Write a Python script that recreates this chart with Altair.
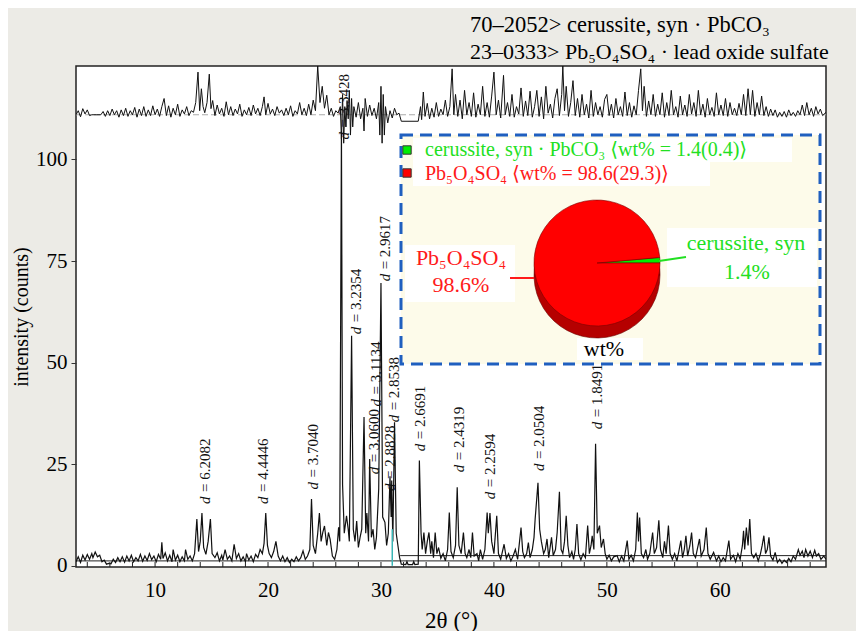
import math
import altair as alt
import pandas as pd

FONT = "Liberation Serif, DejaVu Serif, serif"

obs_pts = [
    (3.0, 1.0), (3.2, 2.2), (3.4, 0.8), (3.6, 2.6), (3.8, 1.4), (4.0, 2.8), (4.2, 1.6), (4.4, 3.0),
    (4.5, 2.0), (4.7, 3.4), (4.9, 2.2), (5.1, 2.6), (5.3, 1.0), (5.5, 1.4), (5.7, 0.4), (5.9, 0.6),
    (6.1, 0.5), (6.3, 1.6), (6.5, 0.8), (6.7, 2.0), (6.9, 1.0), (7.1, 2.2), (7.3, 0.9), (7.5, 2.4),
    (7.7, 1.2), (7.9, 2.6), (8.1, 1.0), (8.3, 2.0), (8.5, 1.2), (8.7, 2.8), (8.9, 1.1), (9.1, 2.4),
    (9.3, 1.3), (9.5, 3.0), (9.7, 1.5), (9.9, 2.4), (10.1, 1.0), (10.3, 2.8), (10.5, 1.6), (10.6, 5.8),
    (10.7, 1.8), (10.9, 3.2), (11.1, 1.2), (11.3, 2.6), (11.5, 1.0), (11.6, 4.0), (11.8, 1.4), (12.0, 2.6),
    (12.2, 1.0), (12.4, 2.2), (12.6, 1.2), (12.7, 4.0), (12.9, 1.6), (13.1, 2.4), (13.3, 1.2), (13.5, 3.0),
    (13.7, 11.5), (13.85, 3.5), (14.0, 6.0), (14.15, 13.0), (14.3, 4.5), (14.5, 2.8), (14.7, 6.0), (14.9, 11.5),
    (15.05, 3.0), (15.3, 2.0), (15.5, 3.2), (15.7, 1.2), (15.9, 2.6), (16.0, 1.4), (16.2, 4.0), (16.4, 1.6),
    (16.6, 2.4), (16.8, 1.2), (17.0, 5.3), (17.2, 1.8), (17.4, 3.0), (17.6, 1.2), (17.8, 2.2), (18.0, 1.0),
    (18.1, 3.0), (18.3, 1.4), (18.5, 2.4), (18.7, 1.0), (18.9, 2.8), (19.1, 2.0), (19.3, 4.0), (19.5, 3.0),
    (19.65, 5.5), (19.8, 13.0), (19.95, 5.0), (20.1, 3.0), (20.3, 2.0), (20.5, 3.5), (20.7, 6.0), (20.9, 2.4),
    (21.1, 1.2), (21.3, 2.4), (21.5, 1.0), (21.7, 2.0), (21.9, 0.8), (22.1, 1.6), (22.3, 1.0), (22.5, 2.2),
    (22.7, 1.2), (22.9, 2.0), (23.1, 3.7), (23.3, 1.6), (23.5, 2.4), (23.7, 4.0), (23.85, 16.4), (24.0, 5.0),
    (24.2, 3.0), (24.4, 8.0), (24.55, 13.0), (24.7, 6.0), (24.85, 8.2), (25.0, 9.8), (25.2, 5.0), (25.35, 8.2),
    (25.5, 6.5), (25.7, 2.4), (25.9, 1.6), (26.1, 4.0), (26.25, 9.5), (26.35, 6.0), (26.5, 107.0), (26.6, 20.0),
    (26.75, 8.0), (26.95, 12.3), (27.1, 9.0), (27.2, 6.0), (27.4, 56.6), (27.55, 9.0), (27.7, 6.0), (27.85, 11.0),
    (28.0, 4.5), (28.15, 7.0), (28.3, 9.0), (28.5, 36.6), (28.65, 8.0), (28.75, 13.0), (28.9, 6.0), (29.0, 26.3),
    (29.15, 7.0), (29.3, 9.0), (29.45, 4.0), (29.6, 7.0), (29.8, 18.9), (30.0, 69.6), (30.15, 12.0), (30.35, 10.7),
    (30.5, 5.0), (30.65, 8.0), (30.8, 22.0), (30.9, 12.0), (30.95, 21.0), (31.05, 6.0), (31.2, 35.3), (31.35, 8.0),
    (31.5, 5.0), (31.65, 2.0), (31.8, 0.4), (32.2, 0.3), (32.3, 1.0), (32.4, 0.3), (32.8, 0.3), (32.9, 1.0),
    (33.0, 0.3), (33.3, 0.4), (33.4, 25.9), (33.55, 8.0), (33.65, 4.0), (33.8, 8.2), (33.95, 3.0), (34.1, 6.0),
    (34.25, 8.2), (34.4, 3.0), (34.5, 6.0), (34.65, 2.0), (34.8, 8.2), (34.95, 3.0), (35.1, 4.5), (35.3, 1.8),
    (35.5, 3.0), (35.7, 1.2), (35.9, 4.0), (36.05, 13.1), (36.2, 3.5), (36.4, 2.0), (36.6, 5.0), (36.75, 19.3),
    (36.9, 5.0), (37.1, 3.0), (37.3, 8.2), (37.45, 3.0), (37.6, 2.0), (37.8, 4.0), (37.95, 2.0), (38.1, 8.2),
    (38.25, 2.4), (38.5, 3.0), (38.65, 1.2), (38.8, 4.0), (39.0, 1.6), (39.2, 4.0), (39.4, 13.1), (39.5, 8.0),
    (39.65, 13.0), (39.8, 6.0), (40.0, 3.0), (40.25, 12.3), (40.4, 3.0), (40.6, 1.6), (40.9, 5.3), (41.1, 1.8),
    (41.3, 3.0), (41.5, 1.2), (41.7, 2.4), (41.9, 4.0), (42.1, 1.6), (42.4, 9.4), (42.55, 3.5), (42.7, 2.0),
    (42.9, 3.0), (43.05, 5.7), (43.2, 2.0), (43.4, 4.0), (43.55, 7.0), (43.65, 11.5), (43.9, 20.4), (44.05, 9.0),
    (44.2, 6.0), (44.4, 3.0), (44.55, 4.0), (44.7, 6.6), (44.85, 2.0), (45.1, 7.0), (45.25, 2.5), (45.45, 4.0),
    (45.6, 8.2), (45.8, 18.2), (45.95, 4.0), (46.1, 3.0), (46.25, 6.0), (46.4, 12.3), (46.55, 5.0), (46.7, 2.0),
    (46.9, 3.5), (47.05, 1.6), (47.2, 4.0), (47.35, 10.3), (47.5, 3.0), (47.7, 1.5), (47.9, 3.0), (48.1, 2.0),
    (48.3, 9.9), (48.45, 3.0), (48.6, 5.0), (48.7, 7.4), (48.85, 4.0), (49.0, 30.0), (49.15, 8.0), (49.35, 9.9),
    (49.5, 4.5), (49.7, 6.6), (49.85, 3.0), (50.0, 1.6), (50.2, 2.6), (50.4, 1.2), (50.6, 2.2), (50.9, 2.5),
    (51.1, 1.0), (51.3, 2.4), (51.5, 1.2), (51.8, 6.2), (51.95, 1.6), (52.15, 2.6), (52.35, 1.2), (52.55, 4.0),
    (52.7, 13.1), (52.8, 6.0), (52.9, 11.9), (53.05, 3.0), (53.25, 2.0), (53.45, 4.0), (53.6, 1.6), (53.8, 3.0),
    (54.05, 8.2), (54.2, 3.0), (54.4, 4.5), (54.6, 11.2), (54.75, 4.0), (54.95, 2.0), (55.1, 6.0), (55.25, 3.0),
    (55.45, 9.9), (55.6, 3.0), (55.8, 1.6), (56.0, 3.0), (56.2, 1.2), (56.4, 4.0), (56.55, 6.2), (56.7, 2.0),
    (56.85, 4.0), (57.0, 7.4), (57.15, 2.4), (57.35, 5.0), (57.5, 8.2), (57.65, 3.0), (57.85, 2.0), (58.0, 4.0),
    (58.2, 6.6), (58.35, 2.4), (58.6, 4.0), (58.8, 9.4), (58.95, 3.0), (59.15, 1.6), (59.45, 3.3), (59.7, 1.2),
    (59.9, 2.4), (60.1, 1.0), (60.3, 2.0), (60.5, 1.2), (60.8, 6.2), (60.95, 1.6), (61.2, 2.6), (61.4, 1.0),
    (61.6, 3.0), (61.8, 1.6), (62.0, 5.0), (62.1, 8.6), (62.2, 4.0), (62.35, 9.4), (62.5, 5.0), (62.65, 11.5),
    (62.8, 3.0), (63.0, 2.0), (63.2, 3.0), (63.4, 1.2), (63.6, 3.0), (63.75, 5.0), (63.9, 7.4), (64.05, 3.0),
    (64.2, 4.0), (64.35, 7.0), (64.5, 2.4), (64.7, 1.4), (64.9, 3.3), (65.1, 0.8), (65.3, 1.6), (65.5, 0.6),
    (65.7, 1.4), (65.9, 0.8), (66.1, 1.8), (66.3, 1.0), (66.5, 2.4), (66.7, 1.6), (66.95, 4.0), (67.1, 2.6),
    (67.3, 3.6), (67.45, 2.0), (67.6, 4.0), (67.8, 2.4), (68.0, 3.6), (68.2, 2.0), (68.4, 3.8), (68.55, 2.4),
    (68.75, 3.0), (68.95, 1.6), (69.2, 2.4), (69.4, 1.6),
]

# ---- difference (residual) curve, drawn offset at the top ----
res_pts = [
    (3.0, 111.0), (3.2, 112.0), (3.4, 110.5), (3.6, 112.5), (3.8, 111.2), (4.0, 112.2), (4.2, 110.8), (4.4, 111.0),
    (4.8, 111.0), (5.2, 111.0), (5.4, 111.8), (5.6, 110.6), (5.8, 112.0), (6.0, 110.8), (6.2, 112.4), (6.4, 111.0),
    (6.6, 112.0), (6.8, 110.4), (7.0, 112.2), (7.2, 110.8), (7.4, 112.6), (7.6, 110.6), (7.8, 112.0), (8.0, 111.0),
    (8.2, 112.8), (8.4, 110.4), (8.6, 112.4), (8.8, 110.8), (9.0, 113.0), (9.2, 110.6), (9.4, 112.2), (9.6, 110.8),
    (9.8, 113.2), (10.0, 111.0), (10.2, 112.4), (10.4, 110.6), (10.6, 113.0), (10.8, 115.0), (11.0, 110.8), (11.2, 113.2),
    (11.4, 110.4), (11.6, 112.6), (11.8, 111.0), (12.0, 113.6), (12.2, 110.6), (12.4, 112.2), (12.6, 111.2), (12.8, 113.0),
    (13.0, 110.8), (13.2, 112.0), (13.4, 111.6), (13.6, 114.0), (13.8, 121.5), (13.95, 112.0), (14.1, 117.4), (14.25, 113.0),
    (14.4, 111.5), (14.6, 114.0), (14.8, 121.0), (14.95, 112.5), (15.1, 114.5), (15.3, 110.8), (15.5, 113.4), (15.7, 111.2),
    (15.9, 112.6), (16.1, 110.6), (16.3, 114.2), (16.5, 111.0), (16.7, 113.0), (16.9, 110.8), (17.1, 112.4), (17.3, 111.2),
    (17.5, 113.6), (17.7, 110.6), (17.9, 112.2), (18.1, 111.0), (18.3, 112.8), (18.5, 110.8), (18.7, 113.4), (18.9, 111.2),
    (19.1, 112.6), (19.3, 110.8), (19.5, 113.0), (19.65, 115.4), (19.8, 111.0), (20.0, 113.8), (20.2, 111.2), (20.4, 112.4),
    (20.6, 110.8), (20.8, 113.0), (21.0, 111.4), (21.2, 112.2), (21.4, 110.8), (21.6, 112.6), (21.8, 111.0), (22.0, 113.2),
    (22.2, 110.6), (22.4, 112.0), (22.6, 111.2), (22.8, 114.0), (23.0, 111.0), (23.2, 112.6), (23.4, 110.8), (23.6, 113.6),
    (23.8, 111.0), (24.0, 114.6), (24.2, 112.0), (24.4, 123.0), (24.6, 114.0), (24.8, 118.0), (25.0, 112.6), (25.2, 115.8),
    (25.4, 111.0), (25.6, 112.6), (25.8, 110.6), (26.0, 112.0), (26.2, 111.4), (26.4, 113.0), (26.5, 105.0), (26.6, 116.0),
    (26.7, 104.0), (26.8, 113.0), (26.9, 108.0), (27.0, 114.5), (27.1, 110.0), (27.2, 117.0), (27.3, 106.0), (27.4, 115.0),
    (27.5, 108.0), (27.6, 113.0), (27.8, 110.4), (28.0, 114.0), (28.2, 110.0), (28.4, 112.6), (28.5, 107.0), (28.6, 115.0),
    (28.8, 110.6), (29.0, 113.4), (29.2, 110.8), (29.4, 112.6), (29.6, 110.0), (29.8, 114.0), (29.9, 106.0), (30.0, 118.0),
    (30.1, 104.0), (30.2, 116.0), (30.3, 106.0), (30.4, 113.0), (30.6, 109.0), (30.8, 112.0), (31.0, 110.2), (31.2, 112.6),
    (31.4, 111.0), (31.6, 111.4), (31.8, 109.4), (33.3, 109.4), (33.5, 113.0), (33.6, 109.8), (33.75, 116.6), (33.9, 110.6),
    (34.1, 113.8), (34.3, 110.0), (34.5, 112.6), (34.7, 110.4), (34.9, 114.0), (35.1, 110.6), (35.3, 112.4), (35.5, 111.0),
    (35.7, 114.6), (35.9, 110.6), (36.1, 113.0), (36.3, 122.3), (36.45, 111.0), (36.6, 116.0), (36.8, 110.6), (37.0, 114.6),
    (37.2, 110.0), (37.4, 117.0), (37.6, 111.0), (37.8, 114.0), (38.0, 110.6), (38.2, 116.4), (38.4, 110.4), (38.6, 113.6),
    (38.8, 111.0), (39.0, 118.0), (39.2, 110.6), (39.4, 114.0), (39.6, 110.4), (39.8, 115.6), (40.0, 121.5), (40.2, 111.0),
    (40.4, 114.6), (40.6, 110.2), (40.85, 120.7), (41.0, 111.0), (41.2, 114.0), (41.4, 110.6), (41.6, 116.0), (41.8, 110.4),
    (42.0, 113.0), (42.2, 111.2), (42.4, 117.6), (42.6, 110.6), (42.8, 114.4), (43.0, 110.8), (43.2, 116.8), (43.4, 110.4),
    (43.6, 113.0), (43.8, 117.0), (44.0, 110.6), (44.2, 115.4), (44.4, 110.0), (44.6, 118.0), (44.8, 111.4), (45.0, 113.6),
    (45.2, 110.2), (45.4, 115.0), (45.6, 117.4), (45.8, 110.8), (46.0, 116.0), (46.1, 123.0), (46.25, 112.0), (46.4, 118.0),
    (46.6, 110.6), (46.8, 114.0), (47.0, 119.4), (47.2, 110.8), (47.4, 115.0), (47.6, 110.4), (47.8, 116.0), (48.0, 111.0),
    (48.2, 113.6), (48.4, 110.2), (48.6, 117.0), (48.8, 110.6), (49.0, 114.0), (49.2, 111.0), (49.4, 113.0), (49.6, 110.4),
    (49.8, 114.8), (50.0, 116.0), (50.2, 110.8), (50.4, 113.6), (50.6, 110.2), (50.8, 115.0), (51.0, 111.0), (51.2, 113.0),
    (51.4, 110.6), (51.6, 116.6), (51.8, 110.8), (52.0, 114.0), (52.2, 110.4), (52.4, 113.2), (52.6, 111.0), (52.8, 117.0),
    (53.0, 122.3), (53.15, 112.0), (53.3, 118.0), (53.5, 110.6), (53.7, 114.4), (53.9, 111.0), (54.1, 116.0), (54.3, 110.6),
    (54.5, 113.6), (54.7, 111.0), (54.9, 116.4), (55.1, 110.4), (55.3, 114.0), (55.5, 110.8), (55.7, 117.0), (55.9, 111.0),
    (56.1, 113.0), (56.3, 110.4), (56.5, 115.6), (56.7, 111.0), (56.9, 113.4), (57.1, 110.6), (57.3, 116.0), (57.5, 111.2),
    (57.7, 114.0), (57.9, 110.6), (58.1, 117.0), (58.3, 111.0), (58.5, 113.6), (58.7, 110.4), (58.9, 115.0), (59.1, 111.0),
    (59.3, 112.8), (59.5, 110.6), (59.7, 116.4), (59.9, 111.0), (60.1, 113.4), (60.3, 110.8), (60.5, 115.0), (60.7, 110.6),
    (60.9, 114.0), (61.1, 111.0), (61.3, 112.6), (61.5, 110.8), (61.7, 113.8), (61.9, 111.0), (62.1, 116.0), (62.3, 110.8),
    (62.5, 117.4), (62.7, 111.0), (62.9, 117.0), (63.1, 110.6), (63.3, 114.0), (63.5, 111.0), (63.7, 115.6), (63.9, 110.8),
    (64.1, 113.0), (64.3, 110.6), (64.5, 112.4), (64.7, 110.8), (64.9, 112.2), (65.1, 110.4), (65.3, 111.6), (65.5, 110.6),
    (65.7, 111.8), (65.9, 110.4), (66.1, 112.2), (66.3, 110.8), (66.5, 111.6), (66.7, 110.6), (66.9, 112.0), (67.1, 111.0),
    (67.3, 113.4), (67.5, 110.8), (67.7, 114.0), (67.9, 111.0), (68.1, 112.6), (68.3, 110.6), (68.5, 113.0), (68.7, 111.2),
    (68.9, 112.4), (69.1, 110.8), (69.4, 111.6),
]

# background / reference lines (x start, x end, level)
bg_lines = [(3.0, 69.4, 1.2), (31.7, 69.4, 2.5)]
res_zero = 111.0

# d-spacing labels: (2theta position, intensity at label foot, d value)
d_labels = [
    (14.39, 15.2, "6.2082"), (19.53, 15.2, "4.4446"), (23.96, 18.8, "3.7040"),
    (26.71, 104.9, "3.3428"), (27.78, 57.0, "3.2354"), (29.55, 39.2, "3.1134"),
    (29.37, 22.5, "3.0600"), (30.34, 70.0, "2.9617"), (30.79, 18.4, "2.8828"),
    (31.14, 35.3, "2.8538"), (33.45, 28.2, "2.6691"), (36.9, 23.0, "2.4319"),
    (39.65, 16.4, "2.2594"), (44.0, 23.3, "2.0504"), (49.14, 33.6, "1.8491"),
]

x_labels = [10, 20, 30, 40, 50, 60]
x_minor = list(range(4, 70, 2))
y_labels = [0, 25, 50, 75, 100]

phases = ["cerussite, syn", "Pb₅O₄SO₄"]
wt = [1.4, 98.6]

W, H = 750, 501
xs = alt.Scale(domain=[3, 69.4], nice=False, zero=False)
ys = alt.Scale(domain=[-0.3, 123], nice=False, zero=False)

obs = pd.DataFrame(obs_pts, columns=["t", "i"])
res = pd.DataFrame(res_pts, columns=["t", "i"])
bgl = pd.DataFrame(bg_lines, columns=["t0", "t1", "i"])
dl = pd.DataFrame(d_labels, columns=["t", "i", "d"])
dl["rest"] = "= " + dl["d"]
dl["ital"] = "d"

xaxis = alt.Axis(values=x_labels, ticks=False, grid=False, domain=False,
                 labelFont=FONT, labelFontSize=21, labelColor="black", labelPadding=12,
                 title="2θ (°)", titleFont=FONT, titleFontSize=23, titleFontWeight="normal",
                 titleColor="black", titlePadding=9)
yaxis = alt.Axis(values=y_labels, tickSize=5, tickColor="#333", grid=False, domain=False,
                 labelFont=FONT, labelFontSize=21, labelColor="black", labelPadding=4,
                 title="intensity (counts)", titleFont=FONT, titleFontSize=20,
                 titleFontWeight="normal", titleColor="black", titlePadding=4)

obs_line = alt.Chart(obs).mark_line(color="#111111", strokeWidth=1.2, clip=True).encode(
    x=alt.X("t:Q", scale=xs, axis=xaxis), y=alt.Y("i:Q", scale=ys, axis=yaxis))
res_line = alt.Chart(res).mark_line(color="#111111", strokeWidth=1, clip=True).encode(
    x=alt.X("t:Q", scale=xs), y=alt.Y("i:Q", scale=ys))
res_base = alt.Chart(pd.DataFrame({"t0": [3.0], "t1": [69.4], "i": [res_zero]})).mark_rule(
    color="#aaaaaa", strokeWidth=1, strokeDash=[6, 3]).encode(
    x=alt.X("t0:Q", scale=xs), x2="t1:Q", y=alt.Y("i:Q", scale=ys))
bg_rules = alt.Chart(bgl).mark_rule(color="#222222", strokeWidth=1).encode(
    x=alt.X("t0:Q", scale=xs), x2="t1:Q", y=alt.Y("i:Q", scale=ys))
cyan = alt.Chart(pd.DataFrame({"t": [31.0], "i0": [0.0], "i1": [9.0]})).mark_rule(
    color="#39b5b5", strokeWidth=1.5).encode(
    x=alt.X("t:Q", scale=xs), y=alt.Y("i0:Q", scale=ys), y2="i1:Q")
minor = alt.Chart(pd.DataFrame({"t": x_minor})).mark_rule(color="#222222", strokeWidth=1).encode(
    x=alt.X("t:Q", scale=xs), y=alt.value(H), y2=alt.value(H - 5))

d_it = alt.Chart(dl).mark_text(font=FONT, fontSize=15, fontStyle="italic", angle=270,
                               align="left", baseline="middle", color="#111").encode(
    x=alt.X("t:Q", scale=xs), y=alt.Y("i:Q", scale=ys), text="ital:N")
d_rest = alt.Chart(dl).mark_text(font=FONT, fontSize=15, angle=270, align="left",
                                 baseline="middle", dx=12, color="#111").encode(
    x=alt.X("t:Q", scale=xs), y=alt.Y("i:Q", scale=ys), text="rest:N")

one = pd.DataFrame({"a": [0]})


def box(x0, x1, y0, y1, fill, stroke=None, sw=0, dash=None):
    kw = dict(fill=fill)
    if stroke:
        kw.update(stroke=stroke, strokeWidth=sw)
    if dash:
        kw.update(strokeDash=dash)
    return alt.Chart(one).mark_rect(**kw).encode(
        x=alt.value(x0), x2=alt.value(x1), y=alt.value(y0), y2=alt.value(y1))


def label(txt, x, y, color, size, align="center", style="normal"):
    return alt.Chart(one).mark_text(text=txt, font=FONT, fontSize=size, color=color,
                                    align=align, baseline="middle", fontStyle=style).encode(
        x=alt.value(x), y=alt.value(y))


# inset (pie of weight fractions)
inset_bg = box(325, 744, 69, 298, "#fdfbea", "#1f5fbf", 3, [12, 7])
wbox = [box(337, 716, 72, 96, "white"), box(337, 634, 96, 120, "white"),
        box(329, 439, 179, 236, "white"), box(591, 741, 162, 221, "white"),
        box(501, 567, 272, 294, "white")]

pie_df = pd.DataFrame({"phase": phases, "wt": wt, "ord": [0, 1]})
start = math.pi / 2 - 0.088
theta = alt.Theta("wt:Q", stack=True, scale=alt.Scale(range=[start, start + 2 * math.pi]))
pie_side = alt.Chart(pie_df).mark_arc(outerRadius=63, color="#b50000", stroke="#6a0000",
                                      strokeWidth=0.6).encode(
    theta=theta, order=alt.Order("ord:Q"), x=alt.value(521), y=alt.value(209))
pie_top = alt.Chart(pie_df).mark_arc(outerRadius=63, stroke="#7a0000", strokeWidth=0.6).encode(
    theta=theta, order=alt.Order("ord:Q"),
    color=alt.Color("phase:N", scale=alt.Scale(domain=phases, range=["#00ee00", "#ff0000"]), legend=None),
    x=alt.value(521), y=alt.value(197))

leg_pts = alt.Chart(pd.DataFrame({"p": phases, "yy": [84, 107]})).mark_point(
    shape="square", filled=True, size=70, stroke="#333333", strokeWidth=1, opacity=1).encode(
    x=alt.value(331), y=alt.Y("yy:Q", scale=None),
    fill=alt.Fill("p:N", scale=alt.Scale(domain=phases, range=["#00ee00", "#ff0000"]), legend=None))

GREEN, RED = "#22e022", "#ff1a1a"
texts = [
    label("cerussite, syn · PbCO₃ ⟨wt% = 1.4(0.4)⟩", 349, 84, GREEN, 20, "left"),
    label("Pb₅O₄SO₄ ⟨wt% = 98.6(29.3)⟩", 349, 108, RED, 20, "left"),
    label("Pb₅O₄SO₄", 385, 192, RED, 22),
    label("98.6%", 385, 219, RED, 22),
    label("cerussite, syn", 670, 177, GREEN, 22),
    label("1.4%", 671, 206, GREEN, 22),
    label("wt%", 528, 283, "black", 22),
    label("70–2052> cerussite, syn · PbCO₃", 394, -41, "black", 22.5, "left"),
    label("23–0333> Pb₅O₄SO₄ · lead oxide sulfate", 394, -14, "black", 22, "left"),
]
leaders = [
    alt.Chart(one).mark_rule(color=RED, strokeWidth=2).encode(
        x=alt.value(434), x2=alt.value(458), y=alt.value(212)),
    alt.Chart(one).mark_rule(color=GREEN, strokeWidth=2).encode(
        x=alt.value(583), x2=alt.value(610), y=alt.value(195), y2=alt.value(191)),
]

chart = alt.layer(
    bg_rules, obs_line, cyan, res_base, res_line, minor, d_it, d_rest,
    inset_bg, *wbox, pie_side, pie_top, leg_pts, *leaders, *texts,
).resolve_scale(color="independent", fill="independent").properties(
    width=W, height=H, background="#ecebe6",
    padding={"left": 68, "top": 58, "right": 30, "bottom": 64},
    autosize=alt.AutoSizeParams(type="none"),
).configure_view(stroke="#222222", strokeWidth=1.5, fill="white")

chart.save("out.html", embed_options={"renderer": "svg", "actions": False})
